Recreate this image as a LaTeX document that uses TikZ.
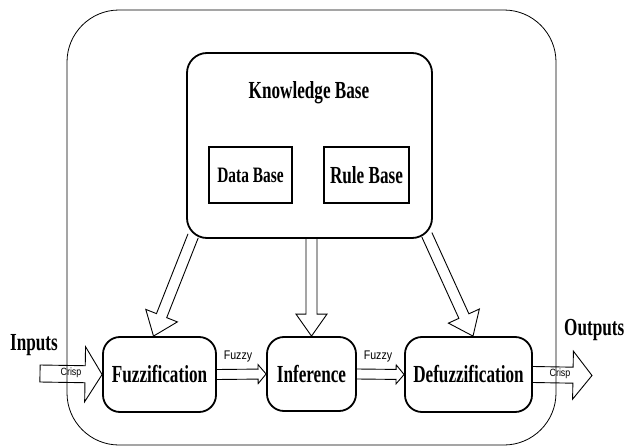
\documentclass[tikz,border=0pt]{standalone}
\usepackage{fontspec}
\setmainfont{Liberation Serif}
\newfontfamily\titlefont{Liberation Serif}[FakeStretch=0.7]
\newfontfamily\lblfont{Liberation Sans}[FakeStretch=0.85]
\usetikzlibrary{calc}
% #1 path ending, #2 from, #3 to, #4 shaft half width, #5 head half width, #6 head length
\newcommand{\blockarrow}[6][]{%
  \coordinate (ahb) at ($(#3)!#6!(#2)$);
  \draw[blockline] ($(#2)!#4!90:(#3)$) -- ($(ahb)!#4!90:(#3)$) -- ($(ahb)!#5!90:(#3)$)
    -- (#3) -- ($(ahb)!#5!-90:(#3)$) -- ($(ahb)!#4!-90:(#3)$) -- ($(#2)!#4!-90:(#3)$) #1;
}
\tikzset{
  blockline/.style={line width=0.9pt, line join=miter},
  kbbox/.style={draw, line width=1.8pt, rounded corners=20pt, inner sep=0pt},
  procbox/.style={draw, line width=1.8pt, rounded corners=17pt, inner sep=0pt, minimum height=75pt,
    font=\titlefont\bfseries\fontsize{24.5}{27}\selectfont},
  subbox/.style={draw, line width=1.6pt, inner sep=0pt, minimum height=56pt},
  title/.style={font=\titlefont\bfseries\fontsize{24.5}{27}\selectfont, inner sep=0pt},
  lbl/.style={font=\lblfont\fontsize{12.5}{14}\selectfont, inner sep=0pt},
  crisp/.style={font=\lblfont\fontsize{10.5}{12}\selectfont, inner sep=0pt},
}
\begin{document}
\begin{tikzpicture}[x=1pt,y=-1pt]
\useasboundingbox (0,0) rectangle (630,447);
% outer frame
\draw[line width=0.8pt, rounded corners=52pt] (67,10) rectangle (556,445);
% knowledge base
\node[kbbox, minimum width=245pt, minimum height=185pt] (kb) at (309.5,145.5) {};
\node[title, anchor=base] (kbt) at (309,98) {Knowledge Base};
\node[subbox, minimum width=83pt, font=\titlefont\bfseries\fontsize{22}{25}\selectfont] (db) at (250.5,175) {Data Base};
\node[subbox, minimum width=85pt, font=\titlefont\bfseries\fontsize{24.5}{27}\selectfont] (rb) at (366.5,175) {Rule Base};
% processing boxes
\node[procbox, minimum width=113pt] (fuzz) at (159.5,374.5) {Fuzzification};
\node[procbox, minimum width=89pt, minimum height=74pt] (inf) at (311.5,374) {Inference};
\node[procbox, minimum width=127pt] (defuzz) at (468.5,374.5) {Defuzzification};
% inputs / outputs
\node[title, anchor=base] (inlbl) at (34,350) {Inputs};
\node[title, anchor=base west] (outlbl) at (564,335) {Outputs};
\coordinate (inp) at (40,373.5);
\coordinate (outp) at (592,375.5);
\blockarrow[-- cycle]{inp}{fuzz.west}{8.5pt}{27.5pt}{17pt}
\blockarrow{defuzz.east}{outp}{8pt}{24pt}{19pt}
\node[crisp] (c1) at (71,372.5) {Crisp};
\node[crisp] (c2) at (560,373.5) {Crisp};
% fuzzy arrows
\blockarrow{fuzz.east}{inf.west}{5pt}{9.5pt}{8pt}
\blockarrow{inf.east}{defuzz.west}{5pt}{9.5pt}{8pt}
\node[lbl] (f1) at (238,356) {Fuzzy};
\node[lbl] (f2) at (378,356) {Fuzzy};
% knowledge base arrows
\coordinate (kbl) at ($(kb.south west)+(7,-3)$);
\coordinate (kbr) at ($(kb.south east)+(-6,-4)$);
\coordinate (fuzzt) at ($(fuzz.north)+(-6,0)$);
\coordinate (defuzzt) at ($(defuzz.north)+(4.5,0)$);
\blockarrow{kbl}{fuzzt}{5.5pt}{17pt}{22pt}
\blockarrow{inf.north |- kb.south}{inf.north}{5.5pt}{15.5pt}{22pt}
\blockarrow{kbr}{defuzzt}{5.5pt}{17pt}{22pt}
\end{tikzpicture}
\end{document}
